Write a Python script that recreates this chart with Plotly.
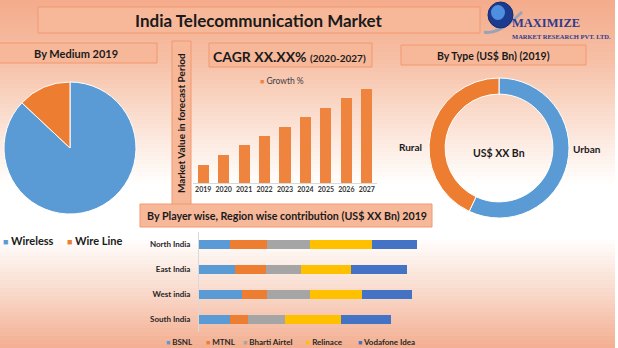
import plotly.graph_objects as go

W, H = 618, 348


def X(px):
    return px / W


def Y(py):
    return 1 - py / H


# ---------------- data ----------------
medium_labels = ["Wireless", "Wire Line"]
medium_values = [87, 13]

type_labels = ["Urban", "Rural"]
type_values = [57, 43]

years = ["2019", "2020", "2021", "2022", "2023", "2024", "2025", "2026", "2027"]
growth = [1.8, 2.8, 3.8, 4.7, 5.6, 6.6, 7.5, 8.5, 9.4]

regions = ["North India", "East India", "West india", "South India"]
players = ["BSNL", "MTNL", "Bharti Airtel", "Relinace", "Vodafone Idea"]
bsnl = [3.1, 3.6, 4.3, 3.1]
mtnl = [3.7, 3.1, 2.5, 1.8]
airtel = [4.3, 3.5, 4.3, 3.7]
reliance = [6.2, 5.0, 5.2, 5.6]
vodafone = [4.5, 5.6, 5.0, 5.0]
player_values = [bsnl, mtnl, airtel, reliance, vodafone]

# ---------------- styles ----------------
BLUE = "#5B9BD5"
ORANGE = "#ED7D31"
GREY = "#A5A5A5"
GOLD = "#FFC000"
DBLUE = "#4472C4"
player_colors = [BLUE, ORANGE, GREY, GOLD, DBLUE]
medium_colors = [BLUE, ORANGE]
type_colors = [BLUE, ORANGE]
FONT = "Lato, 'Open Sans', sans-serif"
SERIF = "'Liberation Serif', 'DejaVu Serif', serif"
TXT = "#1a1a1a"

fig = go.Figure()

# Pie: by medium
fig.add_trace(go.Pie(
    labels=medium_labels, values=medium_values, sort=False, direction="clockwise",
    rotation=0, textinfo="none", showlegend=False,
    marker=dict(colors=medium_colors, line=dict(color="white", width=1)),
    domain=dict(x=[X(4), X(136)], y=[Y(214), Y(82)]),
))

# Donut: by type
fig.add_trace(go.Pie(
    labels=type_labels, values=type_values, sort=False, direction="clockwise",
    rotation=0, hole=0.77, textinfo="none", showlegend=False,
    marker=dict(colors=type_colors, line=dict(color="white", width=1)),
    domain=dict(x=[X(429), X(569)], y=[Y(218), Y(78)]),
))

# Growth bars
fig.add_trace(go.Bar(
    x=years, y=growth, name="Growth %", width=0.54,
    marker=dict(color="#EF843F", line=dict(width=0)),
    xaxis="x", yaxis="y", showlegend=False,
))

# Stacked horizontal bars
for name, vals, col in zip(players, player_values, player_colors):
    fig.add_trace(go.Bar(
        y=regions, x=vals, name=name, orientation="h", width=0.36,
        marker=dict(color=col, line=dict(width=0)),
        xaxis="x2", yaxis="y2", showlegend=False,
    ))

# ---------------- background gradient ----------------
stops = [(0, (244, 171, 139)), (60, (246, 192, 166)), (110, (250, 218, 202)),
         (160, (254, 243, 237)), (185, (255, 255, 255)), (238, (255, 255, 255)),
         (290, (249, 219, 205)), (348, (243, 174, 144))]


def col_at(y):
    for (y0, c0), (y1, c1) in zip(stops[:-1], stops[1:]):
        if y0 <= y <= y1:
            t = (y - y0) / (y1 - y0)
            return "rgb(%d,%d,%d)" % tuple(round(a + (b - a) * t) for a, b in zip(c0, c1))
    return "rgb(%d,%d,%d)" % stops[-1][1]


shapes = []
step = 4
for yy in range(0, H, step):
    shapes.append(dict(type="rect", xref="paper", yref="paper", layer="below",
                       x0=0, x1=1, y0=Y(yy + step), y1=Y(yy),
                       fillcolor=col_at(yy + step / 2), line=dict(width=0)))
shapes.append(dict(type="rect", xref="paper", yref="paper", layer="below",
                   x0=X(615), x1=1, y0=0, y1=1, fillcolor="white", line=dict(width=0)))

BOX_FILL = "rgb(247,184,154)"
BOX_LINE = "rgb(241,152,110)"
boxes = [(38, 7, 480, 33), (-2, 43, 157, 63), (172, 41, 191, 205), (209, 43, 372, 67),
         (401, 45, 586, 65), (140, 204, 432, 227)]
for x0, y0, x1, y1 in boxes:
    shapes.append(dict(type="rect", xref="paper", yref="paper", layer="below",
                       x0=X(x0), x1=X(x1), y0=Y(y1), y1=Y(y0),
                       fillcolor=BOX_FILL, line=dict(color=BOX_LINE, width=1)))

# logo globe
shapes.append(dict(type="path", xref="paper", yref="paper", layer="above",
                   path="M %f %f Q %f %f %f %f" % (X(484), Y(32), X(498), Y(36), X(522), Y(12)),
                   line=dict(color="#9AA3B5", width=3)))
shapes.append(dict(type="circle", xref="paper", yref="paper", layer="above",
                   x0=X(488), x1=X(513), y0=Y(28), y1=Y(2),
                   fillcolor="#1C3A8E", line=dict(color="#142C70", width=1)))
shapes.append(dict(type="circle", xref="paper", yref="paper", layer="above",
                   x0=X(491), x1=X(505), y0=Y(20), y1=Y(5),
                   fillcolor="#4F8FE0", line=dict(width=0)))


def ann(text, x, y, size, bold=True, color=TXT, xanchor="center", angle=0,
        family=FONT, yanchor="middle"):
    return dict(text=text, x=X(x), y=Y(y), xref="paper", yref="paper",
                xanchor=xanchor, yanchor=yanchor, showarrow=False, textangle=angle,
                borderpad=0,
                font=dict(family=family, size=size, color=color,
                          weight="bold" if bold else "normal"))


annotations = [
    ann("India Telecommunication Market", 259, 20, 17),
    ann("By Medium 2019", 76, 53, 11),
    ann("Market Value in forecast Period", 181, 123, 10, angle=-90),
    ann("CAGR XX.XX% <span style='font-size:10px'>(2020-2027)</span>", 289, 56, 14),
    ann("By Type (US$ Bn) (2019)", 493, 56, 10.5),
    ann("US$ XX Bn", 499, 153, 10.5),
    ann(type_labels[1], 410, 147, 10),
    ann(type_labels[0], 587, 149, 10),
    ann("By Player wise, Region wise contribution (US$ XX Bn) 2019", 287, 215, 10.7),
    ann("MAXIMIZE", 511, 31, 12.5, color="#2E3A8C", xanchor="left",
        family=SERIF, yanchor="bottom"),
    ann("MARKET RESEARCH PVT. LTD.", 511, 31.5, 6.5, color="#2E3A8C", xanchor="left",
        family=SERIF, yanchor="top"),
]

# legends (text from series names)
for name, col, lx in zip(medium_labels, medium_colors, [2, 66]):
    annotations.append(ann("<span style='color:%s;font-size:9px'>■</span> %s" % (col, name),
                           lx, 240, 11, xanchor="left"))
annotations.append(ann("<span style='color:#EF843F;font-size:7px'>■</span> Growth %",
                       259, 81, 8.5, bold=False, color="#404040", xanchor="left"))
for name, col, lx in zip(players, player_colors, [165, 205, 242, 305, 357]):
    annotations.append(ann("<span style='color:%s;font-size:7px'>■</span> %s" % (col, name),
                           lx, 342, 8, color="#262626", xanchor="left"))

fig.update_layout(
    width=W, height=H, margin=dict(l=0, r=0, t=0, b=0),
    paper_bgcolor="white", plot_bgcolor="rgba(0,0,0,0)",
    font=dict(family=FONT, color=TXT),
    showlegend=False, barmode="stack",
    shapes=shapes, annotations=annotations,
    xaxis=dict(domain=[X(193), X(377)], anchor="y", type="category",
               showline=True, linecolor="#D9D9D9", linewidth=1, ticks="",
               showgrid=False, zeroline=False,
               tickfont=dict(family=FONT, size=7, color="#333333", weight="bold")),
    yaxis=dict(domain=[Y(183), Y(83)], anchor="x", range=[0, 10], visible=False),
    xaxis2=dict(domain=[X(199), X(439)], anchor="y2", range=[0, 24], visible=False),
    yaxis2=dict(domain=[Y(331.5), Y(231.5)], anchor="x2", type="category",
                categoryorder="array", categoryarray=regions, autorange="reversed",
                showline=True, linecolor="#D9D9D9", linewidth=1, ticks="",
                showgrid=False, zeroline=False, ticklabelstandoff=6,
                tickfont=dict(family=FONT, size=8, color="#262626", weight="bold")),
)

fig.write_html("out.html")
